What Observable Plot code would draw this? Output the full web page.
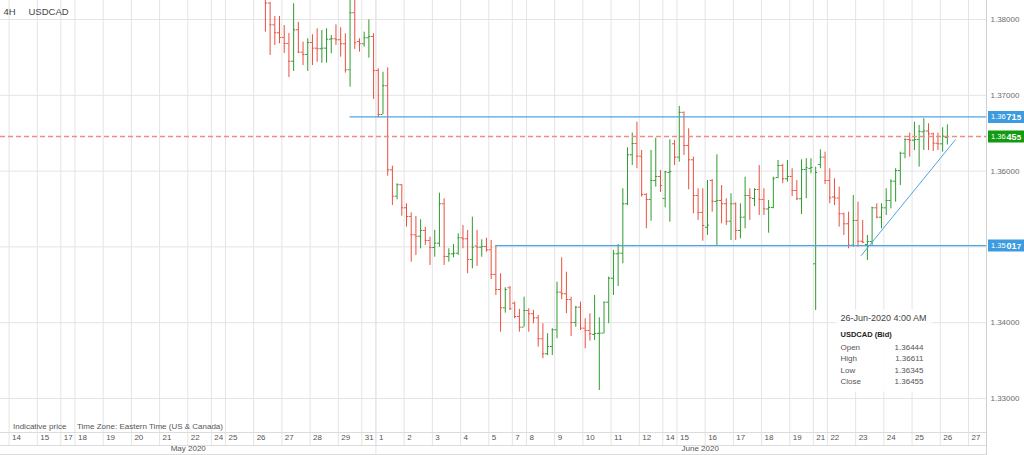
<!DOCTYPE html>
<html><head><meta charset="utf-8">
<script src="https://cdn.jsdelivr.net/npm/d3@7"></script>
<script src="https://cdn.jsdelivr.net/npm/@observablehq/plot@0.6"></script>
<style>
html,body{margin:0;padding:0;background:#fff;}
#chart{width:1024px;height:455px;overflow:hidden;}
</style></head><body><div id="chart"></div>
<script>
// ---------- DATA ----------
const intervalLabel = "4H";
const symbolLabel = "USDCAD";
const footNote1 = "Indicative price";
const footNote2 = "Time Zone: Eastern Time (US & Canada)";
// calendar: day label, number of 4H sessions on that day
const days = [["14",6],["15",5],["17",3],["18",6],["19",6],["20",6],["21",6],["22",5],["24",3],["25",6],
  ["26",6],["27",6],["28",6],["29",5],["31",3],["1",6],["2",6],["3",6],["4",6],["5",5],["7",3],["8",6],
  ["9",6],["10",6],["11",6],["12",5],["14",3],["15",6],["16",6],["17",6],["18",6],["19",5],["21",3],
  ["22",6],["23",6],["24",6],["25",6],["26",6],["27",6]];
const months = [{label: "May 2020", fromDay: 0}, {label: "June 2020", fromDay: 15}];
const firstBarDay = 10, firstBarSession = 2; // first plotted bar: 26 May, 3rd session
const open = [
1.38357,1.38218,1.37930,1.37825,1.37763,1.37684,1.37450,1.37864,1.37569,1.37539,
1.37697,1.37622,1.37614,1.37622,1.37740,1.37746,1.37733,1.37680,1.37337,1.38089,
1.37710,1.37680,1.37759,1.37776,1.37328,1.36747,1.37126,1.36017,1.35669,1.35820,
1.35516,1.35401,1.35160,1.35141,1.35217,1.35085,1.34992,1.35049,1.35569,1.34874,
1.34909,1.34917,1.35120,1.35107,1.34834,1.35012,1.34996,1.35006,1.34962,1.34636,
1.34438,1.34197,1.34461,1.34258,1.34082,1.33941,1.34161,1.34118,1.34065,1.33788,
1.33590,1.33686,1.33907,1.34403,1.34382,1.34306,1.34003,1.34205,1.33928,1.33897,
1.33845,1.33858,1.33862,1.34271,1.34587,1.34909,1.34917,1.35569,1.36215,1.36364,
1.36197,1.35692,1.35626,1.35876,1.35929,1.35639,1.35982,1.36360,1.36184,1.36775,
1.36338,1.36149,1.35678,1.35454,1.35260,1.35876,1.35599,1.35612,1.35569,1.35339,
1.35569,1.35217,1.35392,1.35678,1.35639,1.35758,1.35626,1.35500,1.35520,1.35916,
1.36074,1.35899,1.35929,1.35744,1.35635,1.36021,1.36035,1.34777,1.36087,1.36184,
1.35876,1.35659,1.35645,1.35437,1.35305,1.35023,1.35349,1.35075,1.35032,1.35071,
1.35516,1.35392,1.35516,1.35612,1.35867,1.36008,1.36236,1.36417,1.36408,1.36417,
1.36517,1.36529,1.36492,1.36368,1.36360,1.36444];
const high = [
1.38409,1.38225,1.38040,1.38040,1.37921,1.37816,1.38207,1.37961,1.37701,1.37746,
1.37799,1.37878,1.37855,1.37878,1.37789,1.37930,1.37891,1.37812,1.38291,1.38277,
1.37746,1.37833,1.37996,1.37812,1.37350,1.37305,1.37363,1.36065,1.35833,1.35824,
1.35569,1.35450,1.35401,1.35358,1.35260,1.35128,1.35217,1.35709,1.35635,1.34975,
1.35032,1.35173,1.35283,1.35217,1.35392,1.35217,1.35094,1.35115,1.35085,1.35017,
1.34646,1.34461,1.34478,1.34271,1.34175,1.34337,1.34184,1.34161,1.34095,1.33986,
1.33854,1.33920,1.34535,1.34856,1.34667,1.34337,1.34214,1.34271,1.34052,1.34118,
1.34359,1.34065,1.34271,1.34601,1.34953,1.35032,1.35767,1.36308,1.36501,1.36645,
1.36272,1.35701,1.36272,1.36434,1.36008,1.35995,1.36413,1.36404,1.36853,1.36780,
1.36558,1.36184,1.35767,1.35767,1.35876,1.35889,1.36215,1.35810,1.35635,1.35701,
1.35580,1.35569,1.35920,1.35767,1.35767,1.36074,1.35767,1.35612,1.35920,1.36140,
1.36090,1.36140,1.36031,1.35876,1.36149,1.36163,1.36163,1.36052,1.36281,1.36250,
1.36031,1.35899,1.35788,1.35445,1.35458,1.35678,1.35590,1.35349,1.35151,1.35524,
1.35569,1.35569,1.35767,1.35885,1.36031,1.36250,1.36426,1.36501,1.36645,1.36602,
1.36690,1.36624,1.36501,1.36501,1.36572,1.36611];
const low = [
1.37833,1.37525,1.37657,1.37680,1.37552,1.37235,1.37314,1.37552,1.37393,1.37314,
1.37393,1.37437,1.37424,1.37424,1.37548,1.37657,1.37503,1.37292,1.37107,1.37605,
1.37569,1.37635,1.37490,1.36945,1.36703,1.36747,1.35933,1.35546,1.35622,1.35405,
1.35260,1.34798,1.34887,1.34975,1.35019,1.34755,1.34864,1.34996,1.34755,1.34798,
1.34856,1.34887,1.34975,1.34646,1.34711,1.34742,1.34864,1.34930,1.34570,1.34359,
1.33875,1.34126,1.34161,1.34052,1.33875,1.33941,1.33875,1.33986,1.33677,1.33524,
1.33567,1.33567,1.33788,1.34302,1.34118,1.33818,1.33941,1.33897,1.33656,1.33756,
1.33765,1.33106,1.33854,1.33986,1.34359,1.34478,1.34777,1.35546,1.36074,1.36031,
1.35656,1.35239,1.35339,1.35788,1.35718,1.35516,1.35326,1.36074,1.36118,1.36206,
1.35754,1.35437,1.35349,1.35075,1.35151,1.35458,1.35019,1.35305,1.35283,1.35085,
1.35085,1.35107,1.35239,1.35349,1.35533,1.35414,1.35414,1.35181,1.35503,1.35899,
1.35833,1.35854,1.35665,1.35612,1.35428,1.35635,1.35965,1.34161,1.36031,1.35824,
1.35569,1.35546,1.35260,1.35151,1.34975,1.34996,1.34996,1.35041,1.34821,1.35019,
1.35371,1.35239,1.35414,1.35503,1.35590,1.35810,1.36163,1.36184,1.36272,1.36052,
1.36272,1.36272,1.36259,1.36272,1.36250,1.36345];
const close = [
1.38218,1.37930,1.37825,1.37763,1.37684,1.37450,1.37864,1.37569,1.37539,1.37697,
1.37622,1.37614,1.37622,1.37740,1.37746,1.37733,1.37680,1.37337,1.38089,1.37693,
1.37680,1.37759,1.37776,1.37328,1.36747,1.37126,1.36017,1.35669,1.35820,1.35516,
1.35401,1.35160,1.35141,1.35217,1.35085,1.34992,1.35049,1.35569,1.34874,1.34909,
1.34917,1.35120,1.35107,1.34834,1.34996,1.34996,1.35006,1.34962,1.34636,1.34438,
1.34197,1.34438,1.34184,1.34082,1.33941,1.34161,1.34118,1.34065,1.33788,1.33590,
1.33686,1.33907,1.34403,1.34382,1.34306,1.34003,1.34205,1.33928,1.33897,1.33854,
1.33858,1.33862,1.34271,1.34587,1.34909,1.34917,1.35569,1.36215,1.36364,1.36197,
1.35692,1.35626,1.35876,1.35929,1.35810,1.35991,1.35995,1.36184,1.36775,1.36338,
1.36149,1.35678,1.35454,1.35283,1.35287,1.35603,1.35612,1.35569,1.35339,1.35569,
1.35217,1.35392,1.35678,1.35648,1.35758,1.35626,1.35503,1.35520,1.35899,1.36074,
1.35899,1.35929,1.35744,1.35635,1.36021,1.36044,1.36048,1.35982,1.36184,1.35876,
1.35648,1.35645,1.35437,1.35305,1.35023,1.35349,1.35075,1.35062,1.35071,1.35516,
1.35392,1.35516,1.35612,1.35867,1.36008,1.36236,1.36417,1.36408,1.36417,1.36523,
1.36529,1.36492,1.36368,1.36360,1.36461,1.36455];
const priceTicks = [1.33, 1.34, 1.35, 1.36, 1.37, 1.38];
const resistance = {price: 1.36715, fromBar: 18};
const support = {price: 1.35017, fromBar: 49};
const lastPrice = 1.36455;
const trendLine = [{bar: 126.7, price: 1.34887}, {bar: 146.7, price: 1.36413}];
const infoTime = "26-Jun-2020 4:00 AM";
const infoTitle = "USDCAD (Bid)";
const infoRows = ["Open", "High", "Low", "Close"];

// ---------- LAYOUT ----------
const W = 1024, H = 455, mR = 38, mB = 23;
const pxPerSlot = 4.703, slot0px = 8.6;
const xMin = -slot0px / pxPerSlot, xMax = (W - mR - slot0px) / pxPerSlot;
const xFull = xMax + mR / pxPerSlot;
const yMin = 1.38 - 413 / 7580, yMax = 1.38 + 19 / 7580;
const green = "#2e9b2e", red = "#e9503f", blue = "#4fa3e2", grid = "#e4e4e4";
const font = "'Liberation Sans', Arial, sans-serif";

let acc = 0;
const dayTicks = days.map(([label, n]) => { const t = {label, slot: acc}; acc += n; return t; });
const firstSlot = dayTicks[firstBarDay].slot + firstBarSession;
const barX = b => firstSlot + b + 0.5;
const bars = open.map((o, i) => ({x: barX(i), open: o, high: high[i], low: low[i], close: close[i],
  color: close[i] >= o ? green : red}));
const tickLen = 0.42;
const monthMarks = months.map((m, k) => {
  const a = k === 0 ? xMin : dayTicks[m.fromDay].slot;
  const b = k + 1 < months.length ? dayTicks[months[k + 1].fromDay].slot : xFull;
  return {label: m.label, x: (a + b) / 2};
});
const monthStarts = months.slice(1).map(m => dayTicks[m.fromDay].slot);
const last = bars[bars.length - 1];
const infoValues = [last.open, last.high, last.low, last.close].map(v => v.toFixed(5));

const boxes = [
  {price: resistance.price, fill: "#3d9be0"},
  {price: lastPrice, fill: "#139a13"},
  {price: support.price, fill: "#3d9be0"}
];
// axis labels hidden by a price box (as in the reference)
const axisLabels = priceTicks.filter(t => boxes.every(b => Math.abs(b.price - t) > 0.001));
const rectSym = (x0, y0, w, h) => ({draw(ctx) { ctx.moveTo(x0, y0); ctx.lineTo(x0 + w, y0); ctx.lineTo(x0 + w, y0 + h); ctx.lineTo(x0, y0 + h); ctx.closePath(); }});
const rowDy = [-83, -71.5, -60, -48.5];

const chart = Plot.plot({
  width: W, height: H,
  marginTop: 0, marginLeft: 0, marginRight: mR, marginBottom: mB,
  x: {domain: [xMin, xMax], axis: null},
  y: {domain: [yMin, yMax], axis: null},
  color: {type: "identity"},
  style: {fontFamily: font, fontSize: "8px", background: "white", overflow: "hidden"},
  marks: [
    // grid
    Plot.ruleY(priceTicks, {stroke: grid}),
    Plot.ruleX(dayTicks, {x: "slot", stroke: grid, insetBottom: -13}),
    Plot.ruleX(monthStarts, {stroke: grid, insetBottom: -23}),
    Plot.ruleY([yMin], {stroke: "#dcdcdc"}),
    Plot.ruleY([yMin], {stroke: "#dcdcdc", dy: 13}),
    Plot.ruleY([yMin], {stroke: "#dcdcdc", dy: 22}),
    Plot.ruleX([xMax], {stroke: "#d0d0d0", insetBottom: -23}),
    // OHLC bars
    Plot.ruleX(bars, {x: "x", y1: "low", y2: "high", stroke: "color", strokeWidth: 1, clip: true}),
    Plot.ruleY(bars, {y: "open", x1: d => d.x - tickLen, x2: "x", stroke: "color", strokeWidth: 1, clip: true}),
    Plot.ruleY(bars, {y: "close", x1: "x", x2: d => d.x + tickLen, stroke: "color", strokeWidth: 1, clip: true}),
    // drawings
    Plot.ruleY([lastPrice], {stroke: "#f08c82", strokeWidth: 1.5, strokeDasharray: "5,3"}),
    Plot.ruleY([resistance, support], {y: "price", x1: d => barX(d.fromBar), x2: xMax, stroke: blue, strokeWidth: 1.4}),
    Plot.line(trendLine, {x: d => barX(d.bar), y: "price", stroke: blue, strokeWidth: 1}),
    // right axis
    Plot.text(axisLabels, {x: xMax, y: d => d, dx: 4, text: d => d.toFixed(5), textAnchor: "start", fill: "#6b6b6b", fontSize: 8}),
    Plot.dot(boxes, {x: xMax, y: "price", symbol: rectSym(1.5, -6, 40, 12), fill: "fill", stroke: "none"}),
    Plot.text(boxes, {x: xMax, y: "price", dx: 4.5, text: d => d.price.toFixed(5).slice(0, 4), textAnchor: "start", fill: "white", fontSize: 7.5}),
    Plot.text(boxes, {x: xMax, y: "price", dx: 20, text: d => d.price.toFixed(5).slice(4, 6), textAnchor: "start", fill: "white", fontSize: 9, fontWeight: "bold"}),
    Plot.text(boxes, {x: xMax, y: "price", dx: 30.3, dy: 0.5, text: d => d.price.toFixed(5).slice(6), textAnchor: "start", fill: "white", fontSize: 8, fontWeight: "bold"}),
    // bottom axis
    Plot.text(dayTicks, {x: "slot", frameAnchor: "bottom", dx: 3, dy: 7, text: "label", textAnchor: "start", fill: "#555", fontSize: 8}),
    Plot.text(monthMarks, {x: "x", frameAnchor: "bottom", dy: 18, text: "label", textAnchor: "middle", fill: "#555", fontSize: 8}),
    // labels
    Plot.text([intervalLabel], {frameAnchor: "top-left", dx: 3, dy: 8, text: d => d, textAnchor: "start", fill: "#444", fontSize: 9.5}),
    Plot.text([symbolLabel], {frameAnchor: "top-left", dx: 28, dy: 8, text: d => d, textAnchor: "start", fill: "#444", fontSize: 9.5}),
    Plot.text([footNote1], {frameAnchor: "bottom-left", dx: 12.5, dy: -4, text: d => d, textAnchor: "start", fill: "#555", fontSize: 8}),
    Plot.text([footNote2], {frameAnchor: "bottom-left", dx: 76.5, dy: -4, text: d => d, textAnchor: "start", fill: "#555", fontSize: 8}),
    // info box
    Plot.dot([0], {frameAnchor: "bottom-right", dx: -151, dy: -123, symbol: rectSym(0, 0, 96, 82), fill: "white", fillOpacity: 0.88, stroke: "none"}),
    Plot.text([infoTime], {frameAnchor: "bottom-right", dx: -146, dy: -112, text: d => d, textAnchor: "start", fill: "#444", fontSize: 9}),
    Plot.text([infoTitle], {frameAnchor: "bottom-right", dx: -146, dy: -96, text: d => d, textAnchor: "start", fill: "#222", fontSize: 7.5, fontWeight: "bold"}),
    ...infoRows.map((r, k) => Plot.text([r], {frameAnchor: "bottom-right", dx: -146, dy: rowDy[k], text: d => d, textAnchor: "start", fill: "#555", fontSize: 8})),
    ...infoValues.map((v, k) => Plot.text([v], {frameAnchor: "bottom-right", dx: -63, dy: rowDy[k], text: d => d, textAnchor: "end", fill: "#555", fontSize: 8}))
  ]
});
document.getElementById("chart").appendChild(chart);
</script>
</body></html>
